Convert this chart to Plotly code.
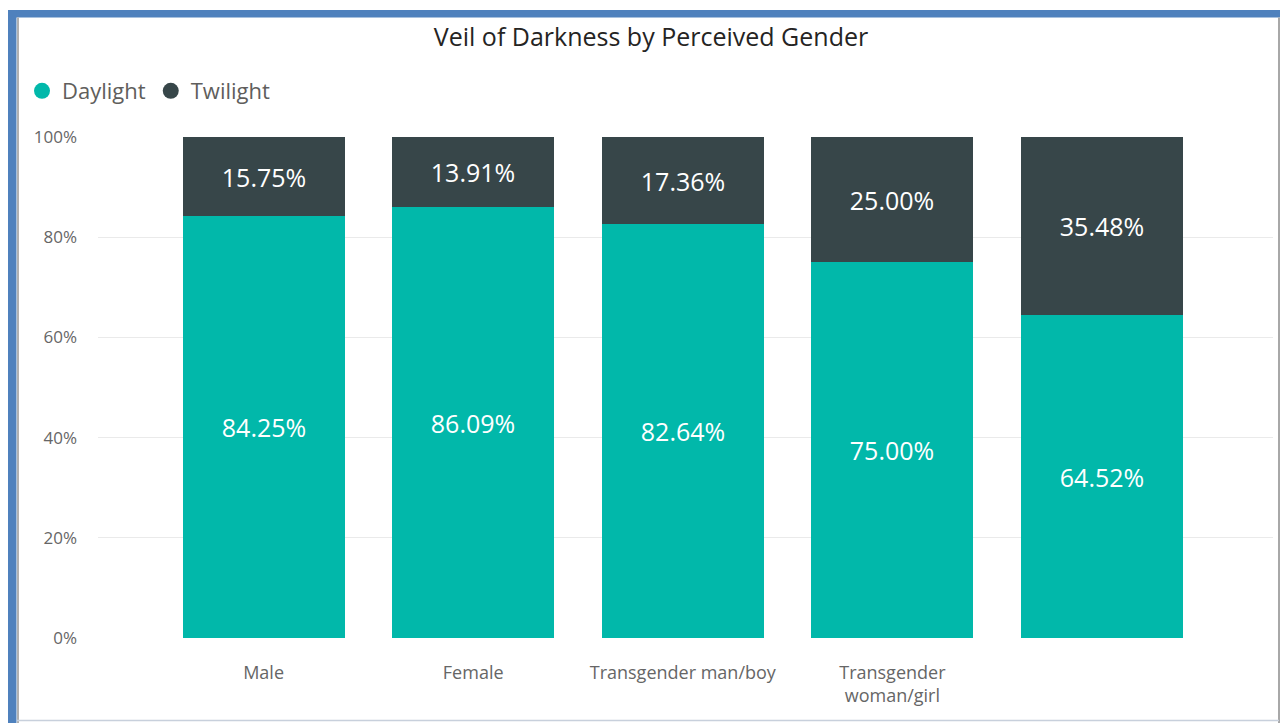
import plotly.graph_objects as go

categories = ["Male", "Female", "Transgender man/boy", "Transgender<br>woman/girl", ""]
daylight = [84.25, 86.09, 82.64, 75.00, 64.52]
twilight = [15.75, 13.91, 17.36, 25.00, 35.48]
ytick_vals = [0, 0.2, 0.4, 0.6, 0.8, 1.0]
ytick_text = ["0%", "20%", "40%", "60%", "80%", "100%"]

C_DAY = "#01B8AA"
C_TWI = "#374649"
FONT = "Open Sans, Noto Sans, sans-serif"

# page body has an 8px margin, so the figure is placed at (8, 8)
OFF = 8
W, H = 1280, 715
L, R, T, B = 90, 15, 129, 85
PW, PH = W - L - R, H - T - B

def px(x):
    return (x - OFF - L) / PW

def py(y):
    return (H - B - (y - OFF)) / PH

xs = list(range(len(categories)))
fig = go.Figure()
fig.add_trace(go.Bar(
    x=xs, y=[v / 100 for v in daylight], name="Daylight", marker_color=C_DAY,
    marker_line_width=0,
    width=0.773, text=[f"{v:.2f}%" for v in daylight], textposition="inside",
    insidetextanchor="middle", textfont=dict(color="white", size=25, family=FONT),
    showlegend=False, hoverinfo="skip"))
fig.add_trace(go.Bar(
    x=xs, y=[v / 100 for v in twilight], name="Twilight", marker_color=C_TWI,
    marker_line_width=0,
    width=0.773, text=[f"{v:.2f}%" for v in twilight], textposition="inside",
    insidetextanchor="middle", textfont=dict(color="white", size=25, family=FONT),
    showlegend=False, hoverinfo="skip"))
for name, col in [("Daylight", C_DAY), ("Twilight", C_TWI)]:
    fig.add_trace(go.Scatter(x=[None], y=[None], mode="markers", name=name,
                             marker=dict(symbol="circle", size=19, color=col)))

shapes = []
blue = "#4F81BD"
shapes.append(dict(type="rect", xref="paper", yref="paper", x0=px(8), x1=px(1290), y0=py(10), y1=py(17.5),
                   fillcolor=blue, line_width=0, layer="above"))
shapes.append(dict(type="rect", xref="paper", yref="paper", x0=px(8), x1=px(16.5), y0=py(10), y1=py(725),
                   fillcolor=blue, line_width=0, layer="above"))
shapes.append(dict(type="rect", xref="paper", yref="paper", x0=px(1280), x1=px(1290), y0=py(10), y1=py(725),
                   fillcolor=blue, line_width=0, layer="above"))
shapes.append(dict(type="line", xref="paper", yref="paper", x0=px(18), x1=px(18), y0=py(17.5), y1=py(725),
                   line=dict(color="#B0B0B0", width=2), layer="above"))
shapes.append(dict(type="line", xref="paper", yref="paper", x0=px(1279), x1=px(1279), y0=py(17.5), y1=py(725),
                   line=dict(color="#A8A8A8", width=2), layer="above"))
shapes.append(dict(type="line", xref="paper", yref="paper", x0=px(17), x1=px(1279), y0=py(720.5), y1=py(720.5),
                   line=dict(color="#C8D0DC", width=1.5), layer="above"))

fig.update_layout(
    width=W, height=H,
    margin=dict(l=L, r=R, t=T, b=B),
    paper_bgcolor="white", plot_bgcolor="white",
    barmode="stack", bargap=0,
    title=dict(text="Veil of Darkness by Perceived Gender", x=(651 - OFF) / W, xanchor="center",
               y=1 - (37 - OFF) / H, yanchor="middle", font=dict(size=25, color="#252423", family=FONT)),
    legend=dict(orientation="h", x=px(22), xanchor="left", y=py(91), yanchor="middle",
                font=dict(size=22, color="#605E5C", family=FONT), itemwidth=30,
                traceorder="normal", bgcolor="rgba(0,0,0,0)"),
    xaxis=dict(tickvals=xs, ticktext=categories, range=[-0.79, 4.816],
               showgrid=False, zeroline=False, showline=False, ticks="",
               ticklabelstandoff=22,
               tickfont=dict(size=18, color="#666666", family=FONT)),
    yaxis=dict(range=[0, 1], tickvals=ytick_vals, ticktext=ytick_text,
               showgrid=True, gridcolor="#EAEAEA", gridwidth=1, zeroline=False,
               showline=False, ticks="", ticklabelstandoff=20,
               tickfont=dict(size=17, color="#666666", family=FONT)),
    shapes=shapes,
)

fig.write_html("out.html")
